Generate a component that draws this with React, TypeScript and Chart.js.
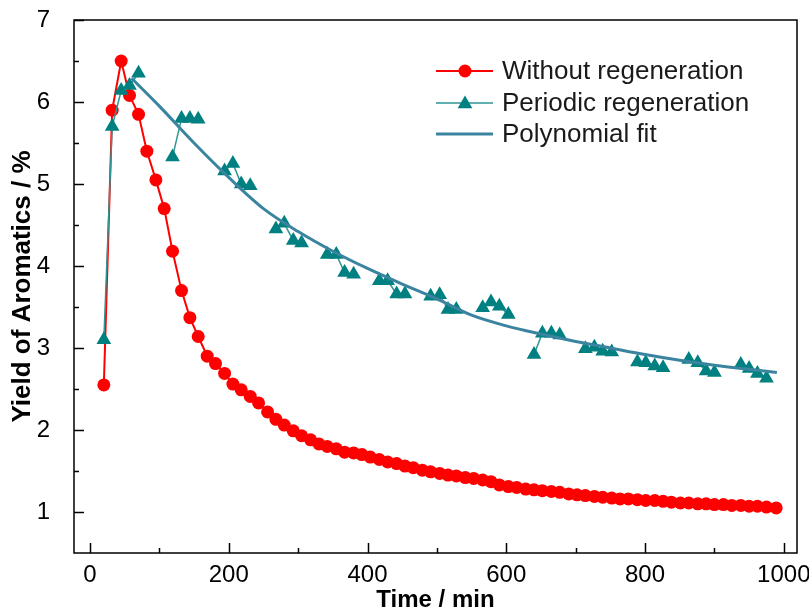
import React, { useEffect, useRef } from 'react';
import { Chart, registerables } from 'chart.js';

Chart.register(...registerables);

const FONT = '"Liberation Sans", Arial, sans-serif';

// Time (min) of each sample
const times = [
  20, 32, 45, 57, 70, 82, 95, 107, 119, 132,
  144, 156, 169, 181, 194, 206, 218, 231, 243, 256,
  268, 280, 293, 305, 318, 330, 342, 355, 367, 380,
  392, 404, 417, 429, 442, 454, 466, 479, 491, 504,
  516, 528, 541, 553, 566, 578, 590, 603, 615, 628,
  640, 652, 665, 677, 690, 702, 714, 727, 739, 752,
  764, 776, 789, 801, 814, 826, 838, 851, 863, 876,
  888, 900, 913, 925, 938, 950, 962, 975, 989,
];

// Yield of aromatics (%) without regeneration
const withoutRegen = [
  2.55, 5.90, 6.50, 6.08, 5.85, 5.40, 5.05, 4.70, 4.18, 3.70,
  3.37, 3.14, 2.90, 2.81, 2.69, 2.56, 2.49, 2.41, 2.33, 2.22,
  2.13, 2.06, 1.99, 1.93, 1.88, 1.83, 1.80, 1.77, 1.73, 1.72,
  1.70, 1.67, 1.64, 1.61, 1.59, 1.56, 1.54, 1.51, 1.49, 1.47,
  1.45, 1.44, 1.42, 1.41, 1.39, 1.37, 1.33, 1.31, 1.30, 1.28,
  1.27, 1.26, 1.25, 1.24, 1.22, 1.21, 1.20, 1.19, 1.18, 1.17,
  1.16, 1.16, 1.15, 1.14, 1.14, 1.13, 1.12, 1.11, 1.11, 1.10,
  1.10, 1.09, 1.09, 1.08, 1.08, 1.07, 1.07, 1.06, 1.05,
];

// Yield of aromatics (%) with periodic regeneration (null = not measured)
const periodicRegen = [
  3.10, 5.70, 6.14, 6.20, 6.35, null, null, null, 5.33, 5.80,
  5.80, 5.79, null, null, 5.16, 5.25, 5.00, 4.98, null, null,
  4.45, 4.52, 4.31, 4.28, null, null, 4.14, 4.14, 3.92, 3.90,
  null, null, 3.82, 3.82, 3.66, 3.66, null, null, 3.63, 3.65,
  3.47, 3.47, null, null, 3.49, 3.56, 3.51, 3.41, null, null,
  2.92, 3.18, 3.18, 3.16, null, null, 2.99, 3.01, 2.96, 2.95,
  null, null, 2.83, 2.82, 2.78, 2.76, null, null, 2.86, 2.82,
  2.72, 2.70, null, null, 2.80, 2.75, 2.69, 2.63, null,
];

// Polynomial fit curve
const fitTimes = [60, 100, 150, 200, 250, 300, 350, 400, 450, 500, 550, 600, 650, 700, 750, 800, 850, 900, 950, 990];
const fitValues = [6.29, 5.95, 5.50, 5.08, 4.70, 4.42, 4.18, 3.97, 3.78, 3.60, 3.40, 3.27, 3.17, 3.08, 3.00, 2.92, 2.85, 2.79, 2.74, 2.70];

const xTickValues = [0, 200, 400, 600, 800, 1000];
const xMinorValues = [100, 300, 500, 700, 900];
const yTickValues = [1, 2, 3, 4, 5, 6, 7];
const yMinorValues = [1.5, 2.5, 3.5, 4.5, 5.5, 6.5];

const legendLabels = ['Without regeneration', 'Periodic regeneration', 'Polynomial fit'];

const RED = '#FF0000';
const TEAL = '#008080';
const TEAL_LINE = '#2E9494';
const FIT = '#3A84A0';

function drawTriangle(ctx: CanvasRenderingContext2D, x: number, y: number, r: number) {
  ctx.beginPath();
  ctx.moveTo(x, y - r);
  ctx.lineTo(x + r * Math.sin(Math.PI * 2 / 3), y + r / 2);
  ctx.lineTo(x - r * Math.sin(Math.PI * 2 / 3), y + r / 2);
  ctx.closePath();
  ctx.fill();
}

const framePlugin = {
  id: 'frameAndLegend',
  afterDraw(chart: any) {
    const { ctx, chartArea: a, scales } = chart;
    const xs = scales.x;
    const ys = scales.y;
    ctx.save();
    ctx.strokeStyle = '#000';
    ctx.lineWidth = 1.5;
    ctx.strokeRect(a.left, a.top, a.right - a.left, a.bottom - a.top);
    ctx.beginPath();
    xTickValues.forEach((v) => {
      const p = Math.round(xs.getPixelForValue(v)) + 0.5;
      ctx.moveTo(p, a.bottom);
      ctx.lineTo(p, a.bottom - 10);
    });
    xMinorValues.forEach((v) => {
      const p = Math.round(xs.getPixelForValue(v)) + 0.5;
      ctx.moveTo(p, a.bottom);
      ctx.lineTo(p, a.bottom - 5);
    });
    yTickValues.forEach((v) => {
      const p = Math.round(ys.getPixelForValue(v)) + 0.5;
      ctx.moveTo(a.left, p);
      ctx.lineTo(a.left + 10, p);
    });
    yMinorValues.forEach((v) => {
      const p = Math.round(ys.getPixelForValue(v)) + 0.5;
      ctx.moveTo(a.left, p);
      ctx.lineTo(a.left + 5, p);
    });
    ctx.stroke();

    // Legend
    const lx0 = 436;
    const lx1 = 493;
    const mx = 465;
    const tx = 502;
    const rows = [71, 103, 134];
    ctx.font = `26px ${FONT}`;
    ctx.textBaseline = 'middle';
    ctx.textAlign = 'left';

    // Without regeneration
    ctx.strokeStyle = RED;
    ctx.lineWidth = 2;
    ctx.beginPath();
    ctx.moveTo(lx0, rows[0]);
    ctx.lineTo(lx1, rows[0]);
    ctx.stroke();
    ctx.fillStyle = RED;
    ctx.beginPath();
    ctx.arc(mx, rows[0], 6.5, 0, Math.PI * 2);
    ctx.fill();

    // Periodic regeneration
    ctx.strokeStyle = TEAL_LINE;
    ctx.lineWidth = 1.5;
    ctx.beginPath();
    ctx.moveTo(lx0, rows[1]);
    ctx.lineTo(lx1, rows[1]);
    ctx.stroke();
    ctx.fillStyle = TEAL;
    drawTriangle(ctx, mx, rows[1] + 1, 8.5);

    // Polynomial fit
    ctx.strokeStyle = FIT;
    ctx.lineWidth = 3;
    ctx.beginPath();
    ctx.moveTo(lx0, rows[2]);
    ctx.lineTo(lx1, rows[2]);
    ctx.stroke();

    ctx.fillStyle = '#1a1a1a';
    legendLabels.forEach((t, i) => ctx.fillText(t, tx, rows[i] + 1));
    ctx.restore();
  },
};

export default function App() {
  const canvasRef = useRef<HTMLCanvasElement | null>(null);

  useEffect(() => {
    if (!canvasRef.current) return;
    const chart = new Chart(canvasRef.current, {
      type: 'line',
      data: {
        datasets: [
          {
            label: legendLabels[0],
            data: times.map((t, i) => ({ x: t, y: withoutRegen[i] })),
            borderColor: RED,
            backgroundColor: RED,
            borderWidth: 2,
            pointStyle: 'circle',
            pointRadius: 6.5,
            pointBorderWidth: 0,
            pointBackgroundColor: RED,
            pointBorderColor: RED,
            tension: 0,
            order: 3,
          },
          {
            label: legendLabels[1],
            data: times.map((t, i) => ({ x: t, y: periodicRegen[i] })),
            borderColor: TEAL_LINE,
            backgroundColor: TEAL,
            borderWidth: 1.5,
            pointStyle: 'triangle',
            pointRadius: 8.5,
            pointBorderWidth: 0,
            pointBackgroundColor: TEAL,
            pointBorderColor: TEAL,
            spanGaps: false,
            tension: 0,
            order: 2,
          },
          {
            label: legendLabels[2],
            data: fitTimes.map((t, i) => ({ x: t, y: fitValues[i] })),
            borderColor: FIT,
            backgroundColor: FIT,
            borderWidth: 3,
            pointRadius: 0,
            cubicInterpolationMode: 'monotone',
            order: 1,
          },
        ],
      },
      options: {
        responsive: true,
        maintainAspectRatio: false,
        animation: false,
        events: [],
        layout: { padding: { top: 20, right: 12, left: 0, bottom: 0 } },
        plugins: {
          legend: { display: false },
          tooltip: { enabled: false },
        },
        scales: {
          x: {
            type: 'linear',
            min: -23,
            max: 1019,
            afterBuildTicks: (s: any) => {
              s.ticks = xTickValues.map((v) => ({ value: v }));
            },
            afterFit: (s: any) => {
              s.height = 60;
              s.paddingLeft = 0;
              s.paddingRight = 0;
            },
            grid: { display: false, drawTicks: false },
            border: { display: false },
            ticks: {
              padding: 8,
              autoSkip: false,
              maxRotation: 0,
              color: '#000',
              font: { family: FONT, size: 24 },
              callback: (v: any) => String(v),
            },
            title: {
              display: true,
              text: 'Time / min',
              color: '#000',
              font: { family: FONT, size: 24, weight: 'bold' },
              padding: { top: 0, bottom: -2 },
            },
          },
          y: {
            type: 'linear',
            min: 0.5,
            max: 7,
            afterBuildTicks: (s: any) => {
              s.ticks = yTickValues.map((v) => ({ value: v }));
            },
            afterFit: (s: any) => {
              s.width = 74;
              s.paddingTop = 0;
              s.paddingBottom = 0;
            },
            grid: { display: false, drawTicks: false },
            border: { display: false },
            ticks: {
              padding: 24,
              autoSkip: false,
              color: '#000',
              font: { family: FONT, size: 24 },
              callback: (v: any) => String(v),
            },
            title: {
              display: true,
              text: 'Yield of Aromatics / %',
              color: '#000',
              font: { family: FONT, size: 26, weight: 'bold' },
              padding: { top: 7, bottom: 0 },
            },
          },
        },
      },
      plugins: [framePlugin],
    } as any);
    return () => chart.destroy();
  }, []);

  return (
    <div style={{ position: 'fixed', left: 0, top: 0, width: 809, height: 613, background: '#fff' }}>
      <canvas ref={canvasRef} />
    </div>
  );
}
